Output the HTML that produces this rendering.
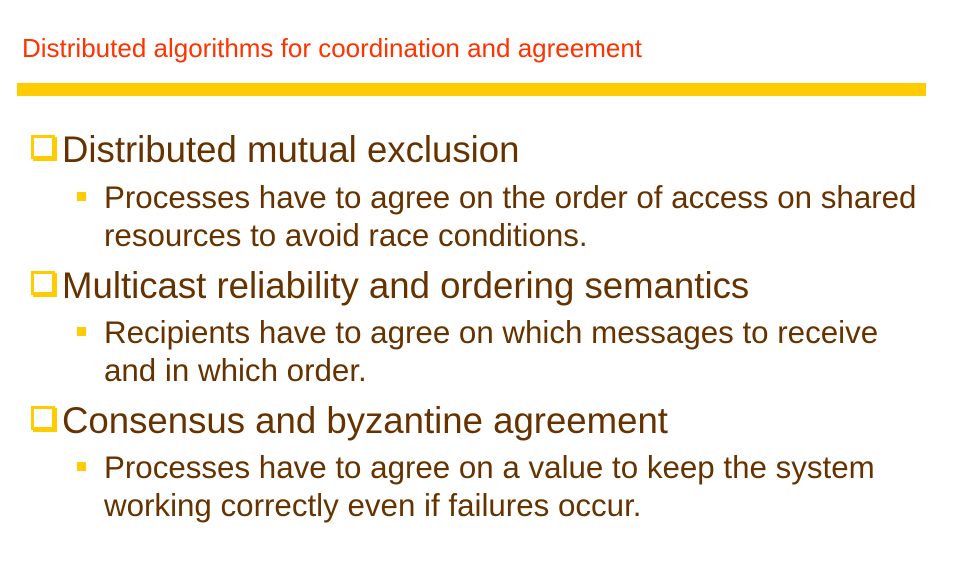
<!DOCTYPE html>
<html><head><meta charset="utf-8"><style>
body{margin:0;width:960px;height:566px;background:#fff;position:relative;overflow:hidden;font-family:"Liberation Sans",Arial,sans-serif}
.t{position:absolute;white-space:nowrap;line-height:1}
.title{left:22px;top:35px;font-size:26px;color:#ff3300}
.bar{position:absolute;left:17px;top:83px;width:909px;height:13px;background:#ffcc00}
.h{left:62px;font-size:36.6px;color:#663300}
.b{left:104px;font-size:31.3px;color:#663300}
.cb{position:absolute;left:31px;width:24px;height:24px;border:3px solid #ffcc00;box-shadow:2px 2px 0 #ffcc00;box-sizing:border-box}
.sq{position:absolute;left:77px;width:9px;height:9px;background:#ffcc00}
</style></head><body>
<div class="t title">Distributed algorithms for coordination and agreement</div>
<div class="bar"></div>

<div class="cb" style="top:135px"></div>
<div class="t h" style="top:132px">Distributed mutual exclusion</div>
<div class="sq" style="top:192px"></div>
<div class="t b" style="top:182px">Processes have to agree on the order of access on shared</div>
<div class="t b" style="top:220px">resources to avoid race conditions.</div>

<div class="cb" style="top:271px"></div>
<div class="t h" style="top:268px">Multicast reliability and ordering semantics</div>
<div class="sq" style="top:327px"></div>
<div class="t b" style="top:317px">Recipients have to agree on which messages to receive</div>
<div class="t b" style="top:355px">and in which order.</div>

<div class="cb" style="top:406px"></div>
<div class="t h" style="top:403px">Consensus and byzantine agreement</div>
<div class="sq" style="top:462px"></div>
<div class="t b" style="top:452px">Processes have to agree on a value to keep the system</div>
<div class="t b" style="top:490px">working correctly even if failures occur.</div>
</body></html>
